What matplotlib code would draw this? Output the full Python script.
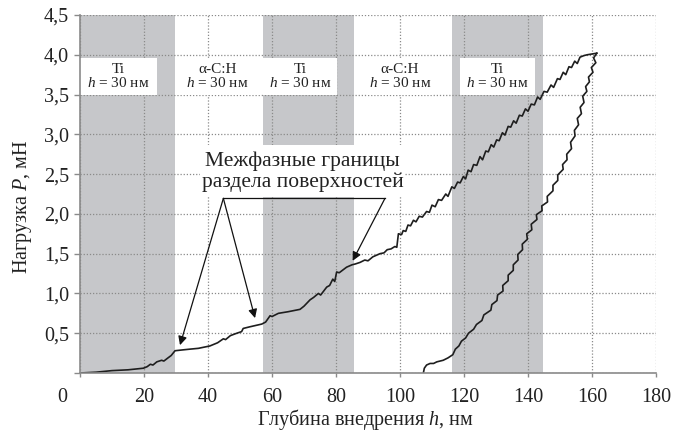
import matplotlib
matplotlib.use("Agg")
import matplotlib.pyplot as plt
import matplotlib.transforms as mtransforms
from matplotlib.patches import Rectangle
from matplotlib.ticker import FixedLocator, FuncFormatter

plt.rcParams['font.family'] = ['Liberation Serif', 'DejaVu Serif']
plt.rcParams['mathtext.fontset'] = 'custom'
plt.rcParams['mathtext.rm'] = 'Liberation Serif'
plt.rcParams['mathtext.it'] = 'Liberation Serif:italic'

# Loading branch: indentation depth h (nm), load P (mN)
load_h = [0, 5, 10, 15, 19.8, 21, 22, 22.8, 24, 25.5, 26.2, 27.5, 28.5, 29.7,
          32, 34.4, 37, 40.6, 43, 44.8, 45.5, 47, 49, 50.5, 51, 53, 56.8, 58,
          59.4, 60, 62, 65, 68.75, 70, 71.9, 73, 74.5, 75.2, 77.1, 78, 79,
          79.6, 80.2, 81, 83.3, 85, 86, 87.5, 89, 90, 91.5, 93.75, 95, 96,
          97.2, 98.4, 99, 99.5, 100.5, 101, 101.8, 102.5, 103.3, 104.2, 105,
          106, 107, 108.3, 109.2, 110, 111, 112, 113, 114.3, 115, 116.2, 117,
          118, 118.8, 119.8, 120.5, 121.3, 122.2, 123, 124, 125, 125.8, 126.8,
          127.6, 128.5, 129.3, 130.2, 131, 132, 132.8, 133.8, 134.6, 135.5,
          136.3, 137.3, 138.2, 139.2, 140, 141, 142, 143, 143.8, 145, 146,
          147.2, 148, 149.2, 150, 151, 151.8, 152.8, 153.6, 154.6, 155.4,
          156.25, 157.5, 158.5, 160, 161.5]
load_p = [0.0, 0.01, 0.03, 0.04, 0.06, 0.08, 0.11, 0.10, 0.14, 0.16, 0.15,
          0.19, 0.22, 0.28, 0.29, 0.30, 0.31, 0.34, 0.38, 0.43, 0.42, 0.47,
          0.50, 0.52, 0.56, 0.58, 0.615, 0.64, 0.72, 0.71, 0.75, 0.77, 0.80,
          0.84, 0.92, 0.95, 1.00, 0.98, 1.08, 1.10, 1.18, 1.15, 1.27, 1.26,
          1.33, 1.36, 1.37, 1.39, 1.42, 1.41, 1.46, 1.50, 1.51, 1.55, 1.56,
          1.59, 1.58, 1.75, 1.74, 1.79, 1.78, 1.86, 1.85, 1.92, 1.90, 1.97,
          1.96, 2.03, 2.02, 2.11, 2.09, 2.18, 2.17, 2.25, 2.22, 2.34, 2.32,
          2.40, 2.39, 2.47, 2.44, 2.55, 2.53, 2.62, 2.61, 2.72, 2.68, 2.79,
          2.78, 2.87, 2.84, 2.93, 2.92, 3.02, 2.99, 3.10, 3.09, 3.17, 3.14,
          3.24, 3.23, 3.32, 3.29, 3.38, 3.37, 3.47, 3.44, 3.54, 3.53, 3.62,
          3.59, 3.70, 3.69, 3.78, 3.75, 3.85, 3.84, 3.92, 3.89, 3.97, 3.99,
          4.00, 4.01, 4.02]

# Unloading branch
unload_h = [161.5, 160.5, 161.2, 159.8, 160.3, 158.9, 159.2, 158, 158.4, 157.1,
            157.5, 156.3, 156.7, 155.4, 155.8, 154.5, 154.7, 153.3, 153.6,
            152.1, 152.2, 150.8, 151, 149.3, 149.3, 147.8, 147.8, 146, 146.1,
            144.3, 144.4, 142.6, 142.8, 141, 141.2, 139.6, 139.8, 138.2, 138.3,
            136.8, 136.9, 135.4, 135.4, 133.8, 133.8, 132.1, 132.2, 130.5,
            130.3, 128.7, 128.4, 126.2, 125.6, 123.9, 123.0, 121.4, 120.5,
            119.2, 118.4, 117.3, 116.5, 115, 113.5, 111.5, 110.5, 109.4, 108.3,
            107.6, 107.3]
unload_p = [4.02, 3.96, 3.90, 3.84, 3.78, 3.72, 3.66, 3.60, 3.54, 3.48, 3.40,
            3.34, 3.26, 3.20, 3.12, 3.05, 2.98, 2.90, 2.82, 2.75, 2.68, 2.62,
            2.56, 2.49, 2.42, 2.36, 2.29, 2.22, 2.15, 2.10, 2.04, 1.99, 1.93,
            1.87, 1.80, 1.75, 1.68, 1.62, 1.55, 1.49, 1.42, 1.36, 1.29, 1.23,
            1.16, 1.10, 1.03, 0.98, 0.91, 0.86, 0.79, 0.73, 0.66, 0.61, 0.55,
            0.50, 0.44, 0.40, 0.34, 0.30, 0.23, 0.19, 0.16, 0.14, 0.12, 0.12,
            0.10, 0.06, 0.0]

# Layers: Ti bands and label boxes
ti_bands = [(0, 29.7), (57.1, 85.5), (116.2, 144.6)]
layer_boxes = [(0, 24), (29.7, 56.25), (57.1, 80.3), (89.6, 110.3), (118.75, 142.2)]
layer_names = ["Ti", "α-C:H", "Ti", "α-C:H", "Ti"]
layer_thick = "$h$ = 30 нм"

x_ticks = [0, 20, 40, 60, 80, 100, 120, 140, 160, 180]
y_ticks = [0, 0.5, 1.0, 1.5, 2.0, 2.5, 3.0, 3.5, 4.0, 4.5]

fig = plt.figure(figsize=(6.86, 4.33), dpi=100)
ax = fig.add_axes([80/686, 1 - 373/433, 576/686, 358/433])
ax.set_xlim(0, 180)
ax.set_ylim(0, 4.5)

band_color = "#c6c7ca"
for a, b in ti_bands:
    ax.axvspan(a, b, color=band_color, lw=0, zorder=0)

ax.set_axisbelow(True)
ax.grid(True, color="#8a8a8a", linestyle=(0, (1, 1.5)), linewidth=0.9)

box_lo, box_hi = 3.49, 3.96
for (a, b), name in zip(layer_boxes, layer_names):
    ax.add_patch(Rectangle((a, box_lo), b - a, box_hi - box_lo,
                           facecolor="white", edgecolor="none", zorder=2))
    ax.text((a + b) / 2, (box_lo + box_hi) / 2, name + "\n" + layer_thick,
            ha="center", va="center", fontsize=11, zorder=3,
            linespacing=1.0, color="#222222")

# Interface annotation
ax.add_patch(Rectangle((37.5, 2.21), 64, 0.65, facecolor="white",
                       edgecolor="none", zorder=2))
ax.text(69.5, 2.53, "Межфазные границы\nраздела поверхностей",
        ha="center", va="center", fontsize=15.5, zorder=3,
        linespacing=1.05, color="#222222")

apex_l = (44.8, 2.195)
apex_r = (95.3, 2.195)
ax.plot([apex_l[0], apex_r[0]], [apex_l[1], apex_r[1]], color="#111111",
        lw=0.9, zorder=5)
arrow_kw = dict(arrowstyle="-|>", color="#111111", lw=0.9,
                mutation_scale=13, shrinkA=0, shrinkB=0)
for apex, tip in [(apex_l, (31.25, 0.35)), (apex_l, (54.7, 0.69)),
                  (apex_r, (85.2, 1.41))]:
    ax.annotate("", xy=tip, xytext=apex, arrowprops=arrow_kw, zorder=5)

ax.plot(load_h, load_p, color="#1e1e1e", lw=1.2, zorder=4)
ax.plot(unload_h, unload_p, color="#1e1e1e", lw=1.2, zorder=4)

# Axes styling
for s in ["top", "right"]:
    ax.spines[s].set_visible(False)
for s in ["left", "bottom"]:
    ax.spines[s].set_color("#8a8a8a")
    ax.spines[s].set_linewidth(1.2)
    ax.spines[s].set_zorder(6)

ax.xaxis.set_major_locator(FixedLocator(x_ticks))
ax.yaxis.set_major_locator(FixedLocator(y_ticks))
ax.yaxis.set_major_formatter(FuncFormatter(
    lambda v, p: "" if v == 0 else f"{v:.1f}".replace(".", ",")))
ax.xaxis.set_major_formatter(FuncFormatter(lambda v, p: f"{v:.0f}"))
ax.tick_params(axis="x", direction="out", length=3, width=1, color="#8a8a8a",
               pad=8, labelsize=14.5, labelcolor="#222222")
ax.tick_params(axis="y", direction="out", length=4, width=1, color="#8a8a8a",
               pad=4, labelsize=14.5, labelcolor="#222222")

fig.canvas.draw()
zero_label = ax.xaxis.get_majorticklabels()[0]
zero_label.set_transform(zero_label.get_transform() +
                         mtransforms.ScaledTranslation(-18/100, 0, fig.dpi_scale_trans))

fig.text(365/686, 1 - 420/433, "Глубина внедрения $h$, нм", ha="center",
         va="center", fontsize=14.5, color="#222222")
fig.text(22/686, 1 - 207/433, "Нагрузка $P$, мН", ha="center", va="center",
         rotation=90, fontsize=14.5, color="#222222")

fig.savefig("out.png", dpi=100)
